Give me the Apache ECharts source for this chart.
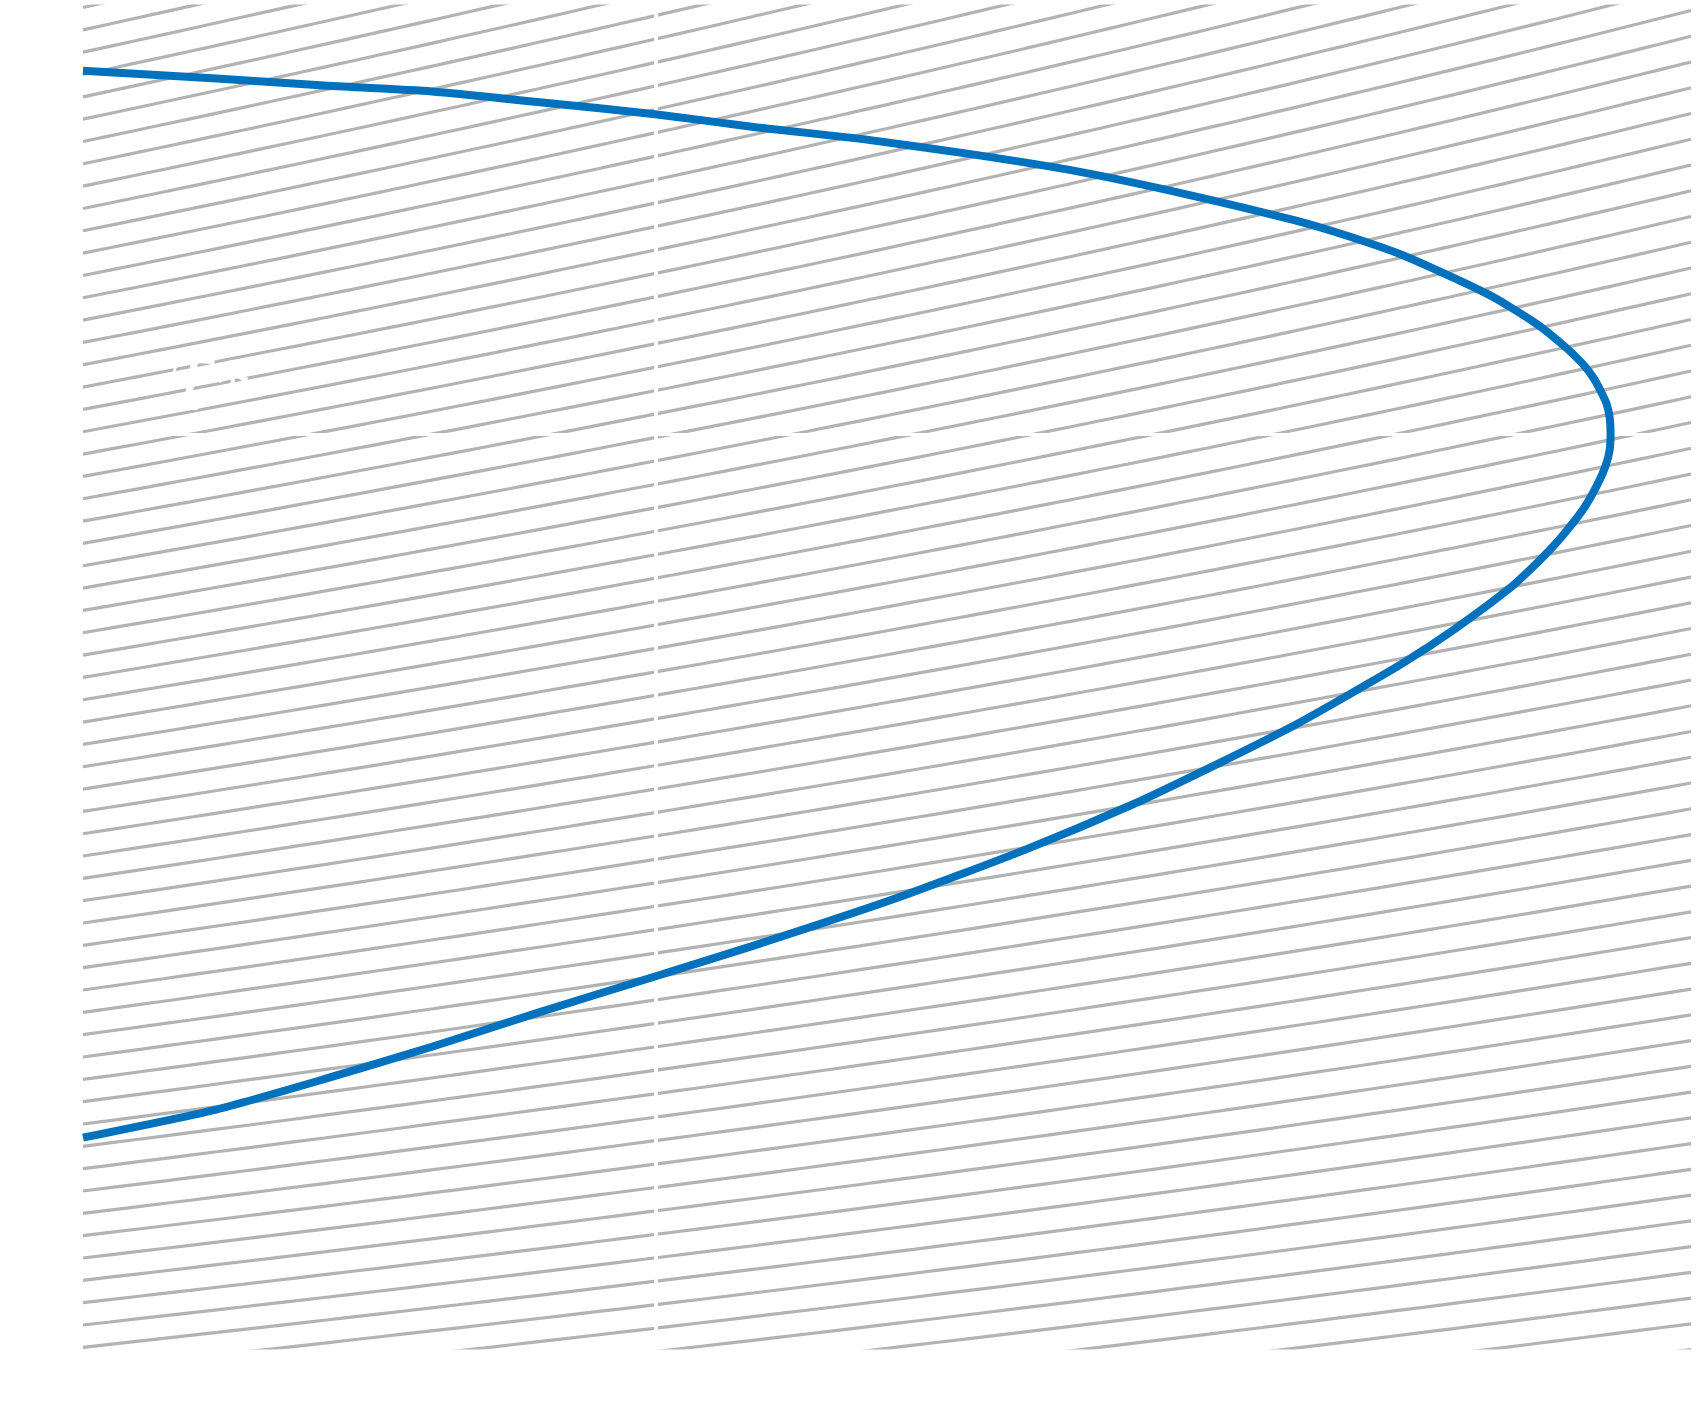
<!DOCTYPE html>
<html>
<head>
<meta charset="utf-8">
<script src="https://cdn.jsdelivr.net/npm/echarts@6/dist/echarts.min.js"></script>
<style>
html,body{margin:0;padding:0;background:#ffffff;overflow:hidden;}
#chart{width:1704px;height:1414px;display:block;}
</style>
</head>
<body>
<div id="chart"></div>
<script>
// ---- data (chart units: x 0..100 across the plot, y 0..100 bottom to top) ----
const profileX = [0, 8.29, 14.99, 21.70, 28.40, 35.57, 41.81, 48.51, 55.21, 61.92, 68.62, 75.32, 78.66, 82.04, 85.38, 87.42, 88.71, 90.19, 91.12, 92.35, 93.40, 93.95, 94.39, 94.76, 94.94, 95.00, 94.94, 94.69, 94.20, 93.40, 92.47, 91.42, 90.19, 88.71, 85.38, 82.03, 78.68, 75.32, 70.63, 65.27, 58.57, 50.52, 41.81, 35.57, 28.40, 21.70, 14.99, 8.29, 0];
const profileY = [95.18, 94.60, 94.07, 93.63, 92.83, 91.94, 90.97, 90.08, 88.96, 87.66, 85.97, 84.04, 82.86, 81.45, 79.67, 78.49, 77.60, 76.48, 75.67, 74.41, 73.15, 72.26, 71.29, 70.33, 69.36, 68.10, 66.91, 65.73, 64.39, 62.69, 61.20, 59.72, 58.23, 56.60, 53.64, 50.99, 48.65, 46.39, 43.57, 40.50, 37.12, 33.49, 30.02, 27.68, 25.03, 22.45, 20.03, 17.77, 15.68];
const refLineX = [35.6];
const refLineY = [68.1];
const refLabels = ['T*'];
// background skew guide levels (indices of the hatch family)
const guideLevels = [];
for (let n = -17; n <= 69; n++) guideLevels.push(n);

// ---- chart ----
const chart = echarts.init(document.getElementById('chart'), null, { width: 1704, height: 1414 });
const X_MIN = 0, X_MAX = 100, Y_MIN = 0, Y_MAX = 100;

// guide family geometry (expressed with the plot's aspect so lines fan as in the source)
const W = 1621, H = 1348;
const q0 = 1 / 102, q1 = (1 / 205 - 1 / 102) / H, gap = 22.43, off = 1.5;
function guideLine(n) {
  const pts = [];
  for (let i = 0; i <= 60; i++) {
    const X = X_MIN + (X_MAX - X_MIN) * i / 60;
    const dx = X / 100 * W;
    const ypx = (n + off / gap - dx * q0) / (1 / gap + dx * q1);
    const Y = (H - ypx) / H * 100;
    pts.push([X, Y]);
  }
  return pts;
}

const series = guideLevels.map(n => ({
  type: 'line',
  data: guideLine(n),
  symbol: 'none',
  silent: true,
  clip: true,
  z: 2,
  lineStyle: { color: '#b3b3b3', width: 3.2 },
  animation: false
}));

series.push({
  type: 'line',
  data: [],
  z: 3,
  silent: true,
  animation: false,
  markLine: {
    silent: true,
    symbol: 'none',
    animation: false,
    data: [
      { xAxis: refLineX[0], lineStyle: { color: '#ffffff', width: 4, type: 'solid' }, label: { show: false } },
      { yAxis: refLineY[0], lineStyle: { color: '#ffffff', width: 3, type: 'solid' },
        label: { show: true, formatter: refLabels[0], position: 'insideStartTop', color: '#ffffff',
                 fontFamily: 'Liberation Serif', fontStyle: 'italic', fontSize: 76, distance: [85, 6] } }
    ]
  }
});

series.push({
  type: 'line',
  data: profileX.map((x, i) => [x, profileY[i]]),
  symbol: 'none',
  smooth: 0.2,
  clip: true,
  z: 5,
  lineStyle: { color: '#0072BD', width: 8, join: 'round', cap: 'butt' },
  animation: false
});

chart.setOption({
  backgroundColor: '#ffffff',
  animation: false,
  grid: { left: 83, right: 0, top: 0, bottom: 66, containLabel: false },
  xAxis: { type: 'value', min: X_MIN, max: X_MAX, show: true,
    axisLine: { show: false }, axisTick: { show: false }, splitLine: { show: false },
    axisLabel: { color: '#ffffff' } },
  yAxis: { type: 'value', min: Y_MIN, max: Y_MAX, show: true,
    axisLine: { show: false }, axisTick: { show: false }, splitLine: { show: false },
    axisLabel: { color: '#ffffff' } },
  series: series
});
</script>
</body>
</html>
